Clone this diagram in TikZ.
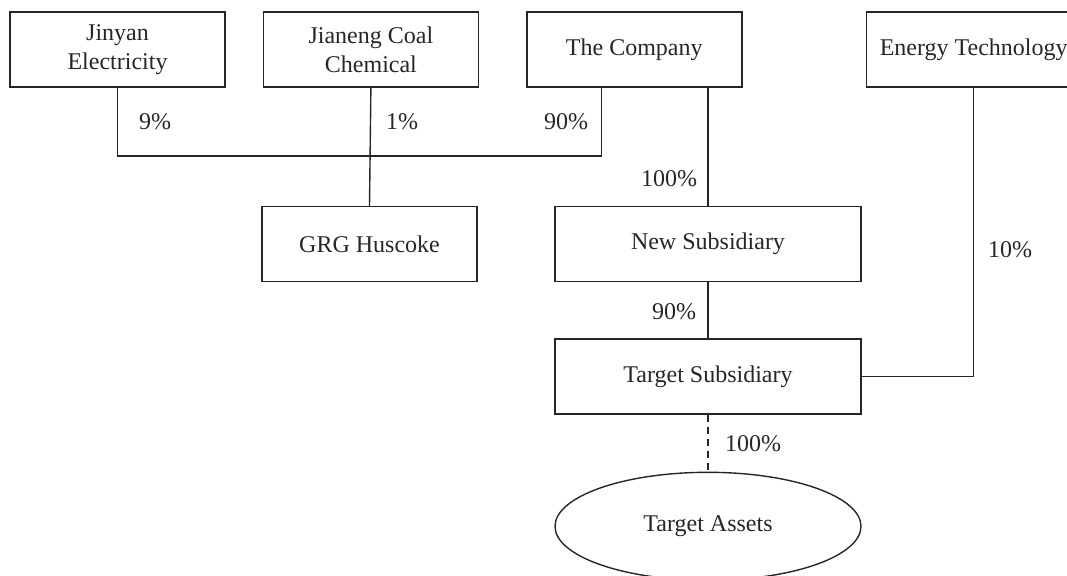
\documentclass[tikz,border=0pt]{standalone}
\usepackage{fontspec}
\setmainfont{Liberation Serif}
\usetikzlibrary{positioning,shapes.geometric}

\begin{document}
\begin{tikzpicture}[x=0.5pt,y=-0.5pt,color=black!85]
	\tikzstyle{every path}=[line width=0.7pt]
	
	\edef\boxheight{37.5pt}
	\tikzstyle{firm}=[draw,minimum width=107.5pt,minimum height=\boxheight,
	align=center,inner sep=2pt,font=\fontsize{12}{14.5}\selectfont]
	\tikzstyle{widefirm}=[firm,minimum width=153pt]
	\tikzstyle{share}=[font=\fontsize{12}{14.5}\selectfont]
	
	\useasboundingbox (0,0) rectangle (1067,575);
	
	%% Draw shareholders
	\node [firm] (jinyan) at (117.5,49.5) {Jinyan\\Electricity};
	\node [firm,right=18.5pt of jinyan] (jianeng) {Jianeng Coal\\Chemical};
	\node [firm,right=23.5pt of jianeng] (company) {The Company};
	\node [firm,right=61.5pt of company] (energy) {Energy Technology};
	
	%% Draw subsidiaries
	\node [firm] (grg) at (369.5,244) {GRG Huscoke};
	\node [widefirm] (newsub) at (708,244) {New Subsidiary};
	\node [widefirm,below=28pt of newsub] (target) {Target Subsidiary};
	\node [ellipse,draw,share,minimum width=153pt,minimum height=54pt,
	below=28.5pt of target] (assets) {Target Assets};
	
	%% Draw holdings
	\coordinate (barR) at (601.5,156);
	\coordinate (barL) at (jinyan.south |- barR);
	\draw (jinyan.south) -- (barL) -- (barR) -- (barR |- company.south);
	\draw (jianeng.south) -- (grg.north);
	\draw (company.south -| newsub.north) -- (newsub.north);
	\draw (newsub.south) -- (target.north);
	\draw (energy.south) |- (target.east);
	\draw [dash pattern=on 3.5pt off 2.5pt] (target.south) -- (assets.north);
	
	\node [share] (pjinyan) at (155,122) {9\%};
	\node [share] (pjianeng) at (402,122) {1\%};
	\node [share] (pcompany) at (566,122) {90\%};
	\node [share] (pnewsub) at (669,179) {100\%};
	\node [share] (penergy) at (1010,250) {10\%};
	\node [share] (ptarget) at (674,312) {90\%};
	\node [share] (passets) at (753,444) {100\%};
	
\end{tikzpicture}
\end{document}
